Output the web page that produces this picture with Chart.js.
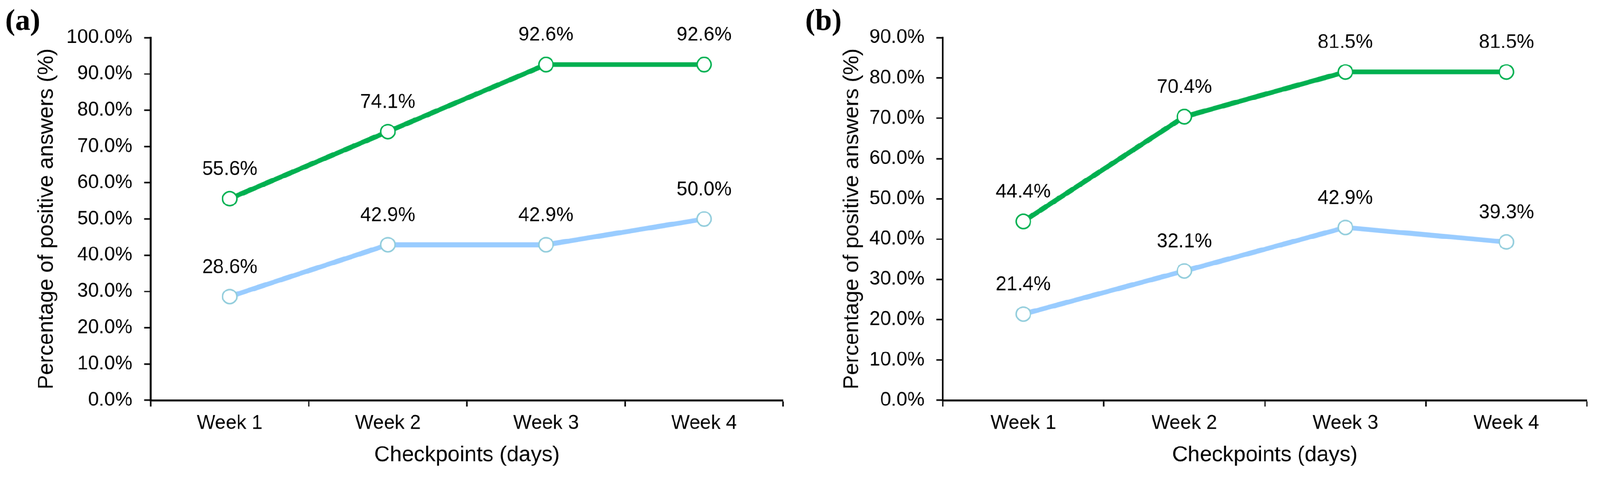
<!DOCTYPE html>
<html><head><meta charset="utf-8">
<script src="https://cdn.jsdelivr.net/npm/chart.js@4"></script>
<style>
html,body{margin:0;padding:0;background:#fff;overflow:hidden;}
#stage{position:absolute;left:0;top:0;width:4280px;height:1273px;transform-origin:0 0;}
.panel{position:absolute;top:0;width:2140px;height:1273px;}
canvas{display:block;}
</style></head><body>
<div id="stage">
<div class="panel" style="left:0"><canvas id="cA" width="2140" height="1273"></canvas></div>
<div class="panel" style="left:2140px"><canvas id="cB" width="2140" height="1273"></canvas></div>
</div>
<script>
const categories = ['Week 1', 'Week 2', 'Week 3', 'Week 4'];
const aGreen = [55.6, 74.1, 92.6, 92.6];
const aBlue = [28.6, 42.9, 42.9, 50.0];
const bGreen = [44.4, 70.4, 81.5, 81.5];
const bBlue = [21.4, 32.1, 42.9, 39.3];
const aYMax = 100;
const bYMax = 90;
const yStep = 10;
const yTitle = 'Percentage of positive answers (%)';
const xTitle = 'Checkpoints (days)';

const GREEN = '#00B050';
const BLUE_LINE = '#99CCFF';
const BLUE_MARK = '#92CDDC';
const FONT = '"Liberation Sans", Arial, sans-serif';

// fit the 4280x1273 design into whatever viewport the page gets
const S = Math.min(window.innerWidth / 4280, window.innerHeight / 1273) || 1;
document.getElementById('stage').style.transform = 'scale(' + S + ')';
const DPR = (window.devicePixelRatio || 1) * S;

const valueLabels = {
  id: 'valueLabels',
  afterDatasetsDraw(chart) {
    const ctx = chart.ctx;
    ctx.save();
    ctx.font = '52px ' + FONT;
    ctx.fillStyle = '#000';
    ctx.textAlign = 'center';
    ctx.textBaseline = 'middle';
    chart.data.datasets.forEach((ds, i) => {
      const meta = chart.getDatasetMeta(i);
      meta.data.forEach((pt, j) => {
        ctx.fillText(ds.data[j].toFixed(1) + '%', pt.x, pt.y - 78);
      });
    });
    ctx.restore();
  }
};

const panelLabel = {
  id: 'panelLabel',
  afterDraw(chart, args, opts) {
    const ctx = chart.ctx;
    ctx.save();
    ctx.font = 'bold 80px "Liberation Serif", "Times New Roman", serif';
    ctx.fillStyle = '#000';
    ctx.textAlign = 'left';
    ctx.textBaseline = 'alphabetic';
    ctx.fillText(opts.text, opts.x, opts.y);
    ctx.restore();
  }
};

function makeChart(id, green, blue, ymax, g) {
  return new Chart(document.getElementById(id), {
    type: 'line',
    data: {
      labels: categories,
      datasets: [
        { data: green, borderColor: GREEN, borderWidth: 13, pointRadius: 19, pointHoverRadius: 19,
          pointBorderWidth: 4, pointBorderColor: GREEN, pointBackgroundColor: '#fff', tension: 0, fill: false },
        { data: blue, borderColor: BLUE_LINE, borderWidth: 13, pointRadius: 19, pointHoverRadius: 19,
          pointBorderWidth: 4, pointBorderColor: BLUE_MARK, pointBackgroundColor: '#fff', tension: 0, fill: false }
      ]
    },
    options: {
      responsive: false,
      animation: false,
      devicePixelRatio: DPR,
      layout: { padding: { left: 0, right: g.right, top: 101, bottom: 0 } },
      plugins: {
        legend: { display: false },
        tooltip: { enabled: false },
        panelLabel: { text: g.label, x: 14, y: 79 }
      },
      scales: {
        x: {
          type: 'category',
          offset: true,
          grid: { offset: true, drawOnChartArea: false, drawTicks: true, tickLength: 17, tickColor: '#000', tickWidth: 4 },
          border: { display: true, color: '#000', width: 5 },
          ticks: { color: '#000', font: { family: FONT, size: 52 }, padding: 14, maxRotation: 0 },
          title: { display: true, text: xTitle, color: '#000', font: { family: FONT, size: 58 }, padding: { top: 0, bottom: 20 } },
          afterFit(s) { s.height = 202; }
        },
        y: {
          min: 0, max: ymax,
          grid: { drawOnChartArea: false, drawTicks: true, tickLength: 17, tickColor: '#000', tickWidth: 4 },
          border: { display: true, color: '#000', width: 5 },
          ticks: { stepSize: yStep, color: '#000', font: { family: FONT, size: 52 }, padding: 32,
                   callback: v => Number(v).toFixed(1) + '%' },
          title: { display: true, text: yTitle, color: '#000', font: { family: FONT, size: 58 }, padding: { top: g.titlePad, bottom: 0 } },
          afterFit(s) { s.width = g.yw; }
        }
      }
    },
    plugins: [valueLabels, panelLabel]
  });
}

makeChart('cA', aGreen, aBlue, aYMax, { yw: 403, right: 45, titlePad: 90, label: '(a)' });
makeChart('cB', bGreen, bBlue, bYMax, { yw: 382, right: 35, titlePad: 105, label: '(b)' });
</script>
</body></html>
